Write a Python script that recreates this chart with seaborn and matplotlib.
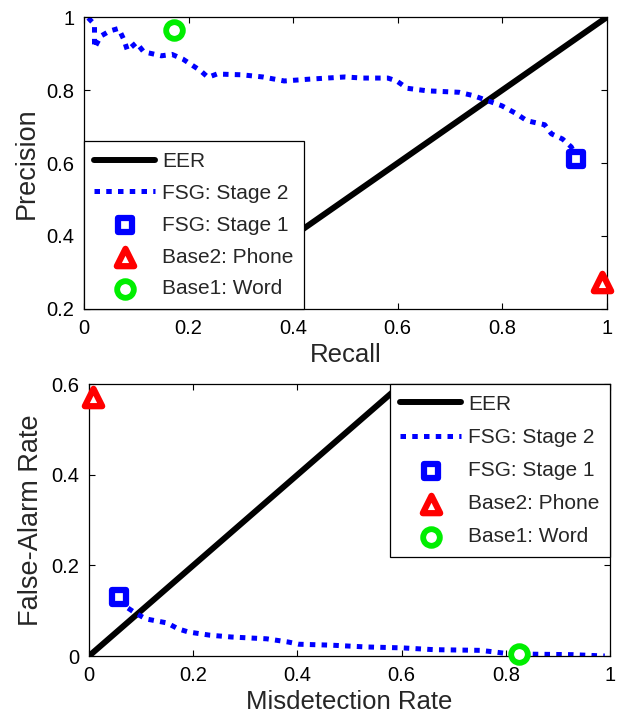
import matplotlib
matplotlib.use("Agg")
import matplotlib.pyplot as plt
import seaborn as sns

# Precision / recall panel (top)
pr_recall = [0.008, 0.020, 0.020, 0.032, 0.049, 0.066, 0.076, 0.083, 0.100, 0.114,
             0.148, 0.168, 0.189, 0.206, 0.223, 0.237, 0.254, 0.301, 0.342, 0.383,
             0.431, 0.499, 0.533, 0.581, 0.598, 0.618, 0.656, 0.717, 0.744, 0.768,
             0.799, 0.826, 0.847, 0.881, 0.894, 0.915, 0.932, 0.940]
pr_precision = [0.998, 0.980, 0.916, 0.948, 0.962, 0.969, 0.939, 0.909, 0.930, 0.905,
                0.894, 0.898, 0.885, 0.869, 0.853, 0.835, 0.844, 0.842, 0.836, 0.825,
                0.830, 0.836, 0.833, 0.833, 0.825, 0.805, 0.798, 0.794, 0.785, 0.773,
                0.757, 0.736, 0.716, 0.705, 0.680, 0.666, 0.644, 0.620]
pr_stage1 = (0.94, 0.612)
pr_phone = (0.99, 0.275)
pr_word = (0.172, 0.964)

# Misdetection / false alarm panel (bottom)
md_rate = [0.060, 0.072, 0.089, 0.109, 0.150, 0.171, 0.191, 0.232, 0.273, 0.341,
           0.382, 0.403, 0.464, 0.532, 0.601, 0.662, 0.751, 0.778, 0.805, 0.853,
           0.928, 0.990]
fa_rate = [0.125, 0.108, 0.095, 0.082, 0.073, 0.060, 0.053, 0.046, 0.042, 0.038,
           0.031, 0.026, 0.024, 0.020, 0.018, 0.014, 0.0125, 0.009, 0.005, 0.004,
           0.003, 0.0]
md_stage1 = (0.057, 0.130)
md_phone = (0.008, 0.573)
md_word = (0.826, 0.005)

eer_line = [0.0, 1.0]

x_ticks = [0, 0.2, 0.4, 0.6, 0.8, 1]
x_ticklabels = ["0", "0.2", "0.4", "0.6", "0.8", "1"]
pr_yticks = [0.2, 0.4, 0.6, 0.8, 1]
pr_yticklabels = ["0.2", "0.4", "0.6", "0.8", "1"]
md_yticks = [0, 0.2, 0.4, 0.6]
md_yticklabels = ["0", "0.2", "0.4", "0.6"]

labels = ["EER", "FSG: Stage 2", "FSG: Stage 1", "Base2: Phone", "Base1: Word"]

sns.set_theme(style="ticks")
plt.rcParams["font.family"] = ["Liberation Sans", "DejaVu Sans"]
plt.rcParams["axes.linewidth"] = 0.9
plt.rcParams["axes.edgecolor"] = "black"


def draw_panel(ax, xs, ys, stage1, phone, word):
    sns.lineplot(x=eer_line, y=eer_line, color="black", lw=4.3,
                 label=labels[0], ax=ax)
    sns.lineplot(x=xs, y=ys, sort=False, estimator=None, color="#0000ff", lw=3.6,
                 linestyle=(0, (1.1, 1.25)), dash_capstyle="butt",
                 label=labels[1], ax=ax)
    sns.scatterplot(x=[stage1[0]], y=[stage1[1]], marker="s", s=10 ** 2,
                    facecolor="white", edgecolor="#0000ff", linewidth=4.5,
                    label=labels[2], clip_on=False, zorder=5, ax=ax)
    sns.scatterplot(x=[phone[0]], y=[phone[1]], marker="^", s=12.5 ** 2,
                    facecolor="white", edgecolor="#ff0000", linewidth=4.5,
                    label=labels[3], clip_on=False, zorder=5, ax=ax)
    sns.scatterplot(x=[word[0]], y=[word[1]], marker="o", s=12 ** 2,
                    facecolor="white", edgecolor="#00ee00", linewidth=4.2,
                    label=labels[4], clip_on=False, zorder=5, ax=ax)
    ax.tick_params(direction="in", top=True, right=True, length=4, width=0.8,
                   labelsize=14.5, pad=7, colors="black")
    ax.set_xlim(0, 1)
    ax.set_xticks(x_ticks)
    ax.set_xticklabels(x_ticklabels)


def style_legend(leg):
    leg.get_frame().set_linewidth(0.9)
    leg.set_zorder(10)


fig = plt.figure(figsize=(6.18, 7.15), dpi=100)
ax1 = fig.add_axes([0.136, 0.568, 0.846, 0.408])
ax2 = fig.add_axes([0.144, 0.0825, 0.843, 0.380])

draw_panel(ax1, pr_recall, pr_precision, pr_stage1, pr_phone, pr_word)
ax1.set_ylim(0.2, 1)
ax1.set_yticks(pr_yticks)
ax1.set_yticklabels(pr_yticklabels)
ax1.set_xlabel("Recall", fontsize=18.5, labelpad=4)
ax1.set_ylabel("Precision", fontsize=19.5, labelpad=5)
leg1 = ax1.legend(loc="lower left", bbox_to_anchor=(0, 0), borderaxespad=0,
                  fontsize=15, handlelength=2.9, handletextpad=0.35,
                  labelspacing=0.62, fancybox=False, framealpha=1,
                  edgecolor="black", borderpad=0.5)
style_legend(leg1)

draw_panel(ax2, md_rate, fa_rate, md_stage1, md_phone, md_word)
ax2.set_ylim(0, 0.6)
ax2.set_yticks(md_yticks)
ax2.set_yticklabels(md_yticklabels)
ax2.set_xlabel("Misdetection Rate", fontsize=18.5, labelpad=4)
ax2.set_ylabel("False-Alarm Rate", fontsize=19.5, labelpad=5)
leg2 = ax2.legend(loc="upper right", bbox_to_anchor=(1, 1), borderaxespad=0,
                  fontsize=15, handlelength=2.9, handletextpad=0.35,
                  labelspacing=0.68, fancybox=False, framealpha=1,
                  edgecolor="black", borderpad=0.5)
style_legend(leg2)

fig.savefig("out.png", dpi=100)
plt.close(fig)
